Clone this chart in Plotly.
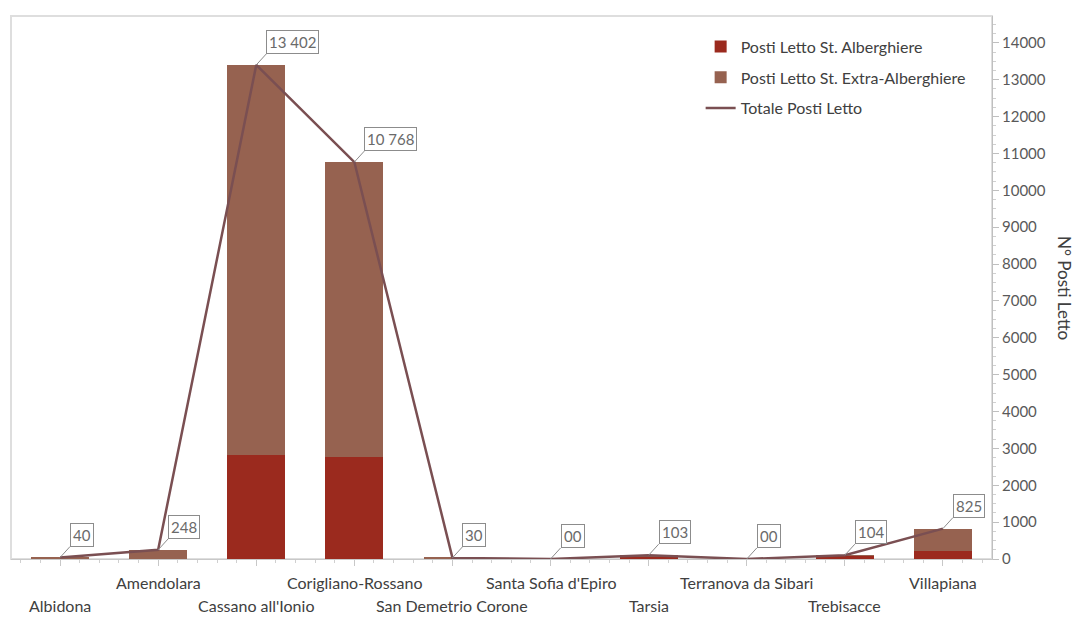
import plotly.graph_objects as go

categories = ["Albidona", "Amendolara", "Cassano all'Ionio", "Corigliano-Rossano",
              "San Demetrio Corone", "Santa Sofia d'Epiro", "Tarsia",
              "Terranova da Sibari", "Trebisacce", "Villapiana"]
alberghiere = [0, 0, 2820, 2770, 0, 0, 70, 0, 90, 220]
extra_alberghiere = [40, 248, 10582, 7998, 30, 0, 33, 0, 14, 605]
totale = [40, 248, 13402, 10768, 30, 0, 103, 0, 104, 825]
totale_labels = ["40", "248", "13 402", "10 768", "30", "00", "103", "00", "104", "825"]
y_ticks = list(range(0, 14001, 1000))
y_ticktext = [str(v) for v in y_ticks]

FONT = "Lato, 'Open Sans', sans-serif"
RED = "#9b2a1e"
BROWN = "#966250"
LINE = "#7a4f52"
TXT = "#404040"

xpos = list(range(len(categories)))

fig = go.Figure()
fig.add_trace(go.Bar(x=xpos, y=alberghiere, name="Posti Letto St. Alberghiere",
                     marker=dict(color=RED, line=dict(width=0)), legendgroup="a"))
fig.add_trace(go.Bar(x=xpos, y=extra_alberghiere, name="Posti Letto St. Extra-Alberghiere",
                     marker=dict(color=BROWN, line=dict(width=0)), legendgroup="b"))
fig.add_trace(go.Scatter(x=xpos, y=totale, mode="lines", name="Totale Posti Letto",
                         line=dict(color=LINE, width=2.5), legendgroup="c"))

annotations = []
for i, (v, t) in enumerate(zip(totale, totale_labels)):
    annotations.append(dict(x=i, y=v, xref="x", yref="y", text=t, showarrow=True,
                            arrowhead=0, arrowwidth=1, arrowcolor="#8c8c8c",
                            ax=10, ay=-11, xanchor="left", yanchor="bottom",
                            bordercolor="#8c8c8c", borderwidth=1, borderpad=2,
                            bgcolor="white", font=dict(family=FONT, size=15, color="#6a6a6a")))
for i, c in enumerate(categories):
    shift = -46 if i % 2 == 0 else -23
    annotations.append(dict(x=i, y=0, xref="x", yref="paper", text=c, showarrow=False,
                            yshift=shift, xanchor="center", yanchor="middle",
                            font=dict(family=FONT, size=16, color=TXT)))
annotations.append(dict(x=1.074, y=0.5, xref="paper", yref="paper", text="N° Posti Letto",
                        showarrow=False, textangle=90, xanchor="center", yanchor="middle",
                        font=dict(family=FONT, size=17, color=TXT)))

fig.update_layout(
    width=1081, height=634,
    margin=dict(l=11, r=89, t=16, b=75),
    paper_bgcolor="white", plot_bgcolor="white",
    barmode="stack", bargap=0.41,
    showlegend=True,
    legend=dict(x=0.703, y=0.975, xanchor="left", yanchor="top",
                traceorder="grouped", tracegroupgap=7,
                font=dict(family=FONT, size=16, color=TXT),
                bgcolor="rgba(0,0,0,0)"),
    annotations=annotations,
    shapes=[dict(type="rect", xref="paper", yref="paper", x0=0, x1=1, y0=0, y1=1,
                 line=dict(color="#dedede", width=2), layer="below")],
    font=dict(family=FONT, color=TXT),
)
fig.update_xaxes(range=[-0.5, 9.5], tickvals=xpos, showticklabels=False,
                 showgrid=False, zeroline=False, showline=True, linecolor="#c8c8c8",
                 linewidth=1, ticks="outside", ticklen=6, tickcolor="#c8c8c8",
                 minor=dict(dtick=0.2, tick0=0, ticks="outside", ticklen=3, tickcolor="#d0d0d0"))
fig.update_yaxes(range=[0, 14730], side="right", tickvals=y_ticks, ticktext=y_ticktext,
                 showgrid=False, zeroline=False, showline=True, linecolor="#bfbfbf",
                 linewidth=1, ticks="outside", ticklen=6, tickcolor="#bfbfbf",
                 tickfont=dict(family=FONT, size=15, color="#595959"),
                 minor=dict(dtick=250, ticks="outside", ticklen=3, tickcolor="#d0d0d0"))

fig.write_html("out.html", config={"displayModeBar": False},
               post_script="document.body.style.margin='0';")
